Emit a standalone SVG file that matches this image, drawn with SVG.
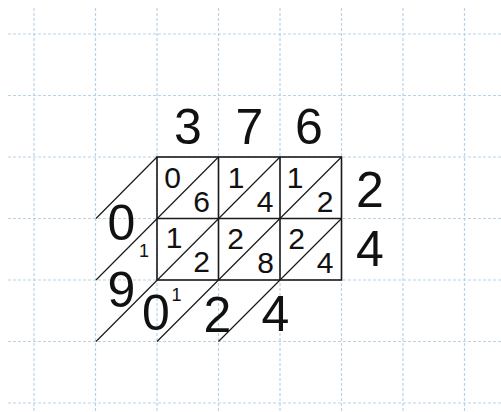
<svg xmlns="http://www.w3.org/2000/svg" width="501" height="412" viewBox="0 0 501 412">
<style>
.g{stroke:#b9d3e6;stroke-width:1.2;stroke-dasharray:3 2;fill:none}
.box{stroke:#1a1a1a;stroke-width:1.6;fill:none}
.d{stroke:#1a1a1a;stroke-width:1.2;fill:none}
text{font-family:"Liberation Sans",Arial,sans-serif;fill:#111;text-anchor:middle}
.big{font-size:50px}
.cell{font-size:30px}
.sm{font-size:18px}
</style>
<rect width="501" height="412" fill="#ffffff"/>
<g id="grid">
<path class="g" d="M34 8V412M95.5 8V412M157 8V412M218.5 8V412M280 8V412M341.5 8V412M403 8V412M464.5 8V412"/>
<path class="g" d="M8 34H501M8 95.5H501M8 157H501M8 218.5H501M8 280H501M8 341.5H501M8 403H501"/>
</g>
<g id="connectors">
<path class="d" d="M96 218.5L157 157M96 280L218.5 157M96 341.5L280 157M157 341.5L341.5 157M218.5 341.5L341.5 218.5"/>
</g>
<g id="lattice">
<rect class="box" x="157" y="157" width="184.5" height="123"/>
<path class="box" d="M218.5 157V280M280 157V280M157 218.5H341.5"/>
</g>
<g id="top-digits">
<text class="big" x="188" y="144">3</text>
<text class="big" x="249.5" y="144">7</text>
<text class="big" x="309" y="144">6</text>
</g>
<g id="right-digits">
<text class="big" x="370" y="207">2</text>
<text class="big" x="370" y="266">4</text>
</g>
<g id="cells">
<text class="cell" x="172.5" y="188">0</text>
<text class="cell" x="201.5" y="212">6</text>
<text class="cell" x="236" y="188">1</text>
<text class="cell" x="265" y="212">4</text>
<text class="cell" x="295" y="188">1</text>
<text class="cell" x="325" y="212">2</text>
<text class="cell" x="174" y="248">1</text>
<text class="cell" x="201.5" y="272">2</text>
<text class="cell" x="235.5" y="249">2</text>
<text class="cell" x="265.5" y="273">8</text>
<text class="cell" x="296.5" y="249">2</text>
<text class="cell" x="325" y="273">4</text>
</g>
<g id="result">
<text class="big" x="121.5" y="240">0</text>
<text class="sm" x="144" y="257">1</text>
<text class="big" x="121.5" y="307">9</text>
<text class="big" x="156" y="330">0</text>
<text class="sm" x="176.5" y="301">1</text>
<text class="big" x="217.5" y="332">2</text>
<text class="big" x="275.5" y="331">4</text>
</g>
</svg>
